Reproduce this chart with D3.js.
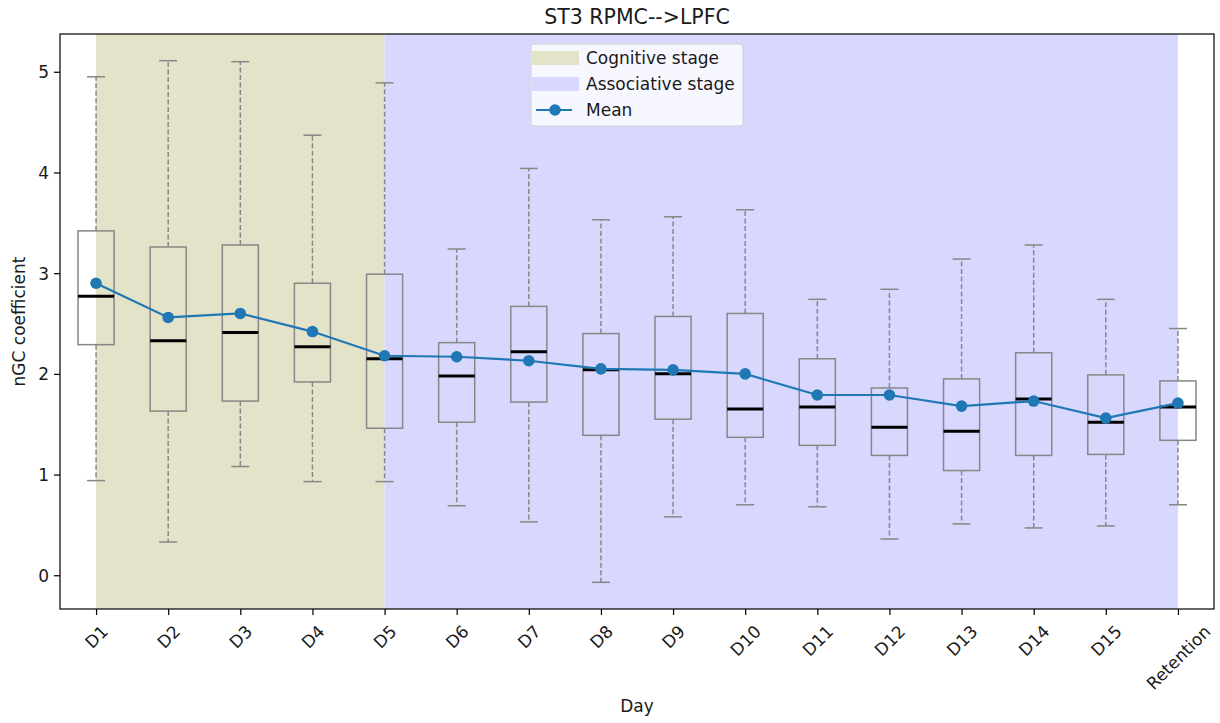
<!DOCTYPE html>
<html><head><meta charset="utf-8">
<script src="https://cdn.jsdelivr.net/npm/d3@7"></script>
<style>body{margin:0;background:#fff;} text{font-family:"DejaVu Sans",sans-serif;fill:#1a1a1a;}</style>
</head><body>
<svg id="chart" width="1220" height="723"></svg>
<script>
const categories = ["D1","D2","D3","D4","D5","D6","D7","D8","D9","D10","D11","D12","D13","D14","D15","Retention"];
const whiskerLow  = [0.94,0.33,1.08,0.93,0.93,0.69,0.53,-0.07,0.58,0.70,0.68,0.36,0.51,0.47,0.49,0.70];
const q1          = [2.29,1.63,1.73,1.92,1.46,1.52,1.72,1.39,1.55,1.37,1.29,1.19,1.04,1.19,1.20,1.34];
const medians     = [2.77,2.33,2.41,2.27,2.15,1.98,2.22,2.04,2.00,1.65,1.67,1.47,1.43,1.75,1.52,1.67];
const q3          = [3.42,3.26,3.28,2.90,2.99,2.31,2.67,2.40,2.57,2.60,2.15,1.86,1.95,2.21,1.99,1.93];
const whiskerHigh = [4.95,5.11,5.10,4.37,4.89,3.24,4.04,3.53,3.56,3.63,2.74,2.84,3.14,3.28,2.74,2.45];
const means       = [2.90,2.56,2.60,2.42,2.18,2.17,2.13,2.05,2.04,2.00,1.79,1.79,1.68,1.73,1.56,1.71];
const yTicks = [0,1,2,3,4,5];
const stages = [
  {label:"Cognitive stage", from:1, to:5, color:"#e3e3ca"},
  {label:"Associative stage", from:5, to:16, color:"#d8d8fe"}
];
const titleText = "ST3 RPMC-->LPFC", xLabel = "Day", yLabel = "nGC coefficient";

const FS = 17;
const svg = d3.select("#chart");
const L = 60, R = 1214, T = 34, B = 609;
const x = d3.scaleLinear().domain([0.5, 16.5]).range([L, R]);
const y = d3.scaleLinear().domain([-0.335, 5.375]).range([B, T]);
const step = x(2) - x(1);

// stages
svg.selectAll("rect.stage").data(stages).enter().append("rect")
  .attr("x", d => x(d.from)).attr("width", d => x(d.to) - x(d.from))
  .attr("y", T).attr("height", B - T).attr("fill", d => d.color);

const g = svg.append("g");
const data = categories.map((c,i)=>({c, i:i+1, lo:whiskerLow[i], q1:q1[i], med:medians[i], q3:q3[i], hi:whiskerHigh[i], mean:means[i]}));
const gray = "#878787";
const bw = step*0.5, cw = step*0.25, lw = 1.5;
const bx = g.selectAll("g.box").data(data).enter().append("g");
bx.append("line").attr("x1", d=>x(d.i)).attr("x2", d=>x(d.i)).attr("y1", d=>y(d.q3)).attr("y2", d=>y(d.hi))
  .attr("stroke", gray).attr("stroke-width",lw).attr("stroke-dasharray","5,2.5");
bx.append("line").attr("x1", d=>x(d.i)).attr("x2", d=>x(d.i)).attr("y1", d=>y(d.q1)).attr("y2", d=>y(d.lo))
  .attr("stroke", gray).attr("stroke-width",lw).attr("stroke-dasharray","5,2.5");
bx.append("line").attr("x1", d=>x(d.i)-cw/2).attr("x2", d=>x(d.i)+cw/2).attr("y1", d=>y(d.hi)).attr("y2", d=>y(d.hi))
  .attr("stroke", gray).attr("stroke-width",lw);
bx.append("line").attr("x1", d=>x(d.i)-cw/2).attr("x2", d=>x(d.i)+cw/2).attr("y1", d=>y(d.lo)).attr("y2", d=>y(d.lo))
  .attr("stroke", gray).attr("stroke-width",lw);
bx.append("rect").attr("x", d=>x(d.i)-bw/2).attr("width", bw).attr("y", d=>y(d.q3)).attr("height", d=>y(d.q1)-y(d.q3))
  .attr("fill","none").attr("stroke", gray).attr("stroke-width",lw);
bx.append("line").attr("x1", d=>x(d.i)-bw/2).attr("x2", d=>x(d.i)+bw/2).attr("y1", d=>y(d.med)).attr("y2", d=>y(d.med))
  .attr("stroke", "#000").attr("stroke-width",3);

// mean line
const line = d3.line().x(d=>x(d.i)).y(d=>y(d.mean));
svg.append("path").datum(data).attr("d", line).attr("fill","none").attr("stroke","#1f77b4").attr("stroke-width",2.2);
svg.selectAll("circle.m").data(data).enter().append("circle")
  .attr("cx", d=>x(d.i)).attr("cy", d=>y(d.mean)).attr("r",5.8).attr("fill","#1f77b4");

// axes
const yAxis = d3.axisLeft(y).tickValues(yTicks).tickSize(6).tickPadding(5).tickFormat(d3.format("d"));
const ya = svg.append("g").attr("transform",`translate(${L},0)`).call(yAxis);
const xAxis = d3.axisBottom(x).tickValues(categories.map((c,i)=>i+1)).tickSize(6).tickPadding(4)
  .tickFormat((d)=>categories[d-1]);
const xa = svg.append("g").attr("transform",`translate(0,${B})`).call(xAxis);
[ya,xa].forEach(a=>{ a.select(".domain").remove(); a.selectAll("line").attr("stroke","#000").attr("stroke-width",1.2);
  a.selectAll("text").style("font-size",FS+"px").attr("fill","#1a1a1a"); });
ya.selectAll("text").attr("dy","0.35em");
// rotated x tick labels, bounding box centered on tick, top under tick
xa.selectAll(".tick text").each(function(){
  const t = d3.select(this);
  t.attr("text-anchor","middle").attr("dy","0.35em").attr("y",0);
  const w = this.getComputedTextLength();
  const H = (w + 0.75*FS)/Math.SQRT2;
  t.attr("transform", `translate(0,${15 + H/2}) rotate(-45)`);
});

// frame
svg.append("rect").attr("x",L).attr("y",T).attr("width",R-L).attr("height",B-T)
  .attr("fill","none").attr("stroke","#000").attr("stroke-width",1.2);

// labels
svg.append("text").attr("x",(L+R)/2).attr("y",24).attr("text-anchor","middle").style("font-size","20.5px").text(titleText);
svg.append("text").attr("x",(L+R)/2).attr("y",712).attr("text-anchor","middle").style("font-size",FS+"px").text(xLabel);
svg.append("text").attr("transform",`translate(25,${(T+B)/2}) rotate(-90)`).attr("text-anchor","middle").style("font-size",FS+"px").text(yLabel);

// legend
const lg = svg.append("g").attr("transform","translate(531,44)");
lg.append("rect").attr("width",212).attr("height",82).attr("rx",3).attr("fill","#fff").attr("fill-opacity",0.8)
  .attr("stroke","#d0d0d0").attr("stroke-width",1);
const entries = [{label:stages[0].label, type:"patch", color:stages[0].color},
                 {label:stages[1].label, type:"patch", color:stages[1].color},
                 {label:"Mean", type:"line", color:"#1f77b4"}];
entries.forEach((e,k)=>{
  const cy = 14 + k*26;
  if(e.type==="patch") lg.append("rect").attr("x",1).attr("y",cy-7).attr("width",47).attr("height",14).attr("fill",e.color);
  else { lg.append("line").attr("x1",5).attr("x2",41).attr("y1",cy).attr("y2",cy).attr("stroke",e.color).attr("stroke-width",2.2);
         lg.append("circle").attr("cx",24).attr("cy",cy).attr("r",5.8).attr("fill",e.color); }
  lg.append("text").attr("x",55).attr("y",cy).attr("dy","0.35em").style("font-size",FS+"px").text(e.label);
});
</script>
</body></html>
